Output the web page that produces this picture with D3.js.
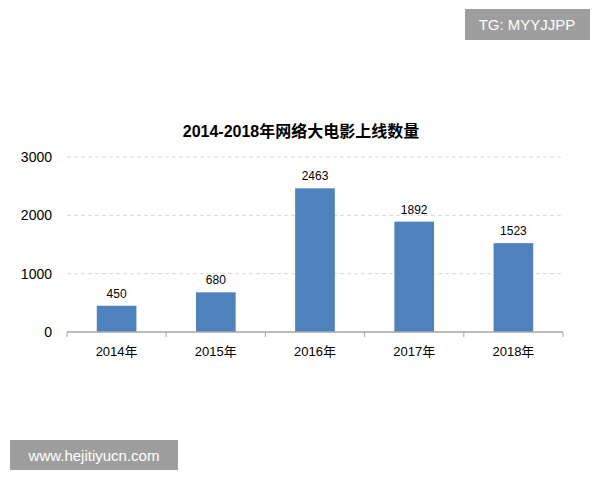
<!DOCTYPE html>
<html><head><meta charset="utf-8">
<script src="https://cdn.jsdelivr.net/npm/d3@7"></script>
<style>body{margin:0;background:#fff}text{font-family:"Liberation Sans","Noto Sans CJK SC",sans-serif}</style>
</head><body><svg id="c" width="600" height="480"></svg>
<script>
var years = ['2014年', '2015年', '2016年', '2017年', '2018年'];
var counts = [450, 680, 2463, 1892, 1523];
var yTicks = [0, 1000, 2000, 3000];

var svg = d3.select('#c');
var m = {left: 67, right: 563, top: 157, bottom: 332};

var x = d3.scaleBand().domain(years).range([m.left, m.right]).paddingInner(0.6).paddingOuter(0.3);
var y = d3.scaleLinear().domain([0, 3000]).range([m.bottom, m.top]);

// gridlines
svg.append('g').selectAll('line').data(yTicks.slice(1)).join('line')
  .attr('x1', m.left).attr('x2', m.right)
  .attr('y1', function(d) { return y(d); }).attr('y2', function(d) { return y(d); })
  .attr('stroke', '#d9d9d9').attr('stroke-dasharray', '4,3');

// y labels
svg.append('g').selectAll('text').data(yTicks).join('text')
  .attr('x', 52).attr('y', function(d) { return y(d) + 5; })
  .attr('text-anchor', 'end').attr('font-size', 14).attr('fill', '#000')
  .text(function(d) { return d; });

// bars
svg.append('g').selectAll('rect').data(counts).join('rect')
  .attr('x', function(d, i) { return x(years[i]); })
  .attr('width', x.bandwidth())
  .attr('y', function(d) { return y(d); })
  .attr('height', function(d) { return y(0) - y(d); })
  .attr('fill', '#4f81bd');

svg.append('g').selectAll('text').data(counts).join('text')
  .attr('x', function(d, i) { return x(years[i]) + x.bandwidth() / 2; })
  .attr('y', function(d) { return y(d) - 8; })
  .attr('text-anchor', 'middle').attr('font-size', 12).attr('fill', '#000')
  .text(function(d) { return d; });

// x axis
svg.append('line').attr('x1', m.left).attr('x2', m.right)
  .attr('y1', m.bottom).attr('y2', m.bottom).attr('stroke', '#a6a6a6').attr('stroke-width', 1.5);
var step = x.step();
var edges = d3.range(years.length + 1).map(function(i) { return m.left + i * (m.right - m.left) / years.length; });
svg.append('g').selectAll('line').data(edges).join('line')
  .attr('x1', function(d) { return d; }).attr('x2', function(d) { return d; })
  .attr('y1', m.bottom).attr('y2', m.bottom + 5).attr('stroke', '#a6a6a6');

svg.append('g').selectAll('text').data(years).join('text')
  .attr('x', function(d) { return x(d) + x.bandwidth() / 2; })
  .attr('y', 356).attr('text-anchor', 'middle').attr('font-size', 13).attr('fill', '#000')
  .text(function(d) { return d; });

svg.append('text').attr('x', 301).attr('y', 137).attr('text-anchor', 'middle')
  .attr('font-size', 16).attr('font-weight', 'bold').attr('fill', '#000')
  .text('2014-2018年网络大电影上线数量');

// watermarks
svg.append('rect').attr('x', 465).attr('y', 9).attr('width', 125).attr('height', 31).attr('fill', '#9e9e9e');
svg.append('text').attr('x', 527).attr('y', 30).attr('text-anchor', 'middle').attr('font-size', 15)
  .attr('fill', '#fff').text('TG: MYYJJPP');
svg.append('rect').attr('x', 10).attr('y', 440).attr('width', 168).attr('height', 30).attr('fill', '#9e9e9e');
svg.append('text').attr('x', 94).attr('y', 461).attr('text-anchor', 'middle').attr('font-size', 15)
  .attr('fill', '#fff').text('www.hejitiyucn.com');
</script></body></html>
